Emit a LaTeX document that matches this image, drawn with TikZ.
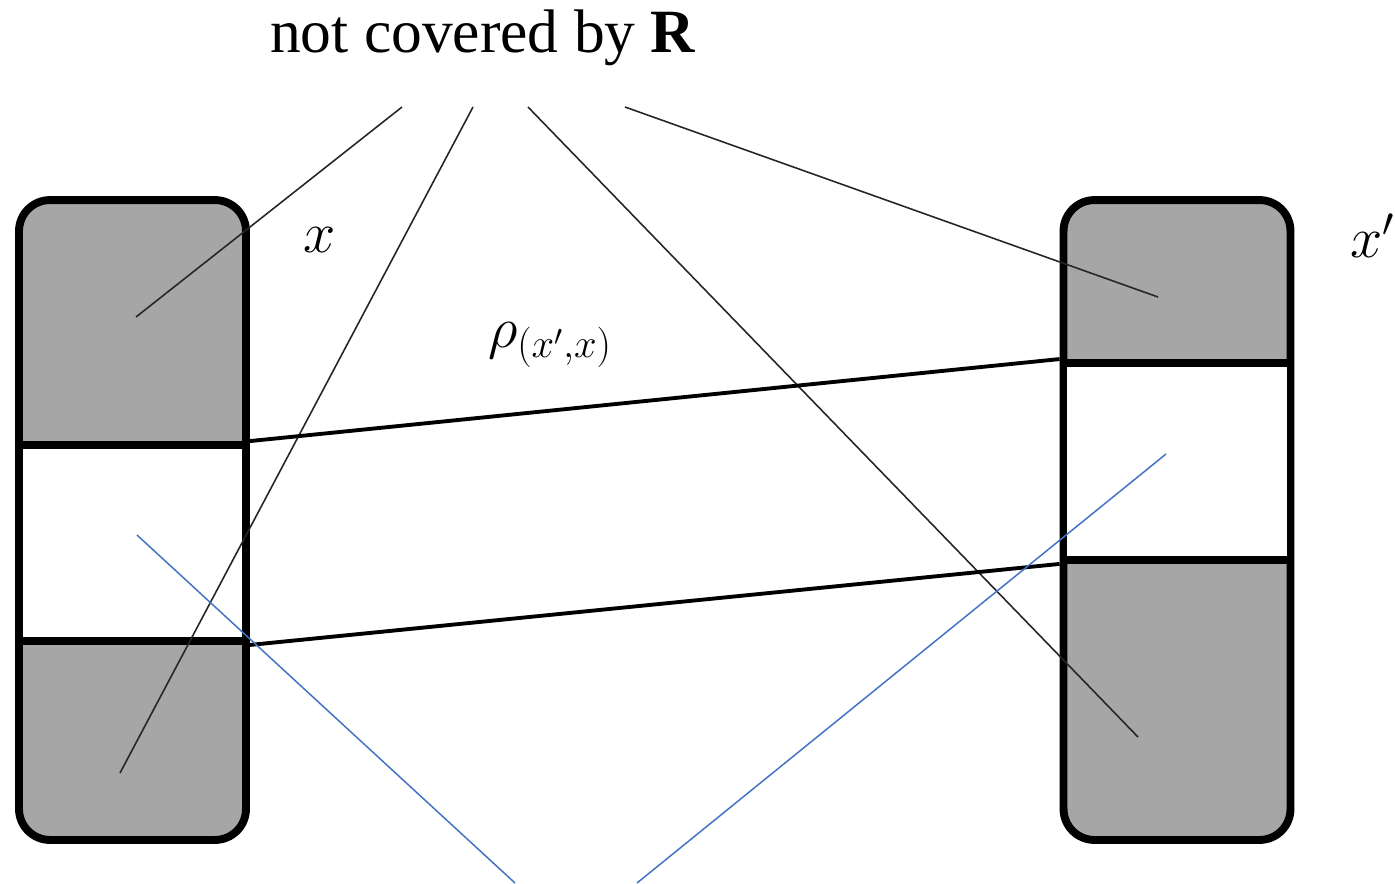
\RequirePackage{fix-cm}
\documentclass[tikz,border=0pt]{standalone}
\usepackage{fontspec}
\setmainfont{Liberation Serif}
\usepackage{amsmath}
\usetikzlibrary{positioning,calc}

\begin{document}
\begin{tikzpicture}[
    x=0.02cm,
    y=-0.02cm,
    box/.style={
        draw,
        line width=4.5pt,
        rounded corners=0.62cm,
        fill=gray!70,
        minimum width=4.54cm,
        minimum height=12.8cm,
        inner sep=0pt
    },
    band/.style={
        draw,
        line width=4.5pt,
        fill=white,
        minimum width=4.54cm,
        inner sep=0pt
    },
    pointer/.style={line width=0.9pt, black!85},
    maplink/.style={line width=2.2pt},
    blueline/.style={line width=0.85pt, draw={rgb,255:red,68;green,114;blue,196}},
    mathlbl/.style={font=\fontsize{33}{40}\selectfont, inner sep=0pt}
]
\useasboundingbox (0,0) rectangle (1395,883);

% ============================================================
% WĘZŁY
% ============================================================
\node[box]  (L)  at (132.5, 520) {};
\node[band, minimum height=3.92cm] (Lm) at (132.5, 543) {};

\node[box]  (R)  at (1177, 520) {};
\node[band, minimum height=3.94cm] (Rm) at (1177, 461.5) {};

\node[font=\fontsize{35}{42}\selectfont, inner sep=0pt] (lbl) at (483, 38)
    {not covered by \textbf{R}};

\node[mathlbl]         (xl)  at (320, 240) {$x$};
\node[mathlbl, anchor=west] (xr) at (1350, 236) {$x'$};
\node[mathlbl]         (rho) at (550, 345) {$\rho_{(x',x)}$};

% końce wskaźników
\coordinate (t1) at (402, 107);
\coordinate (t2) at (473, 107);
\coordinate (t3) at (528, 107);
\coordinate (t4) at (625, 107);
\coordinate (e1) at (136, 317);
\coordinate (e2) at (120, 773);
\coordinate (e3) at (1138, 737);
\coordinate (e4) at (1158, 297);

\coordinate (b1) at (137, 535);
\coordinate (b2) at (515, 883);
\coordinate (b3) at (1166, 454);
\coordinate (b4) at (637, 883);

% ============================================================
% KRAWĘDZIE
% ============================================================
\draw[pointer] (t1) -- (e1);
\draw[pointer] (t2) -- (e2);
\draw[pointer] (t3) -- (e3);
\draw[pointer] (t4) -- (e4);

\draw[maplink] (Lm.north east) -- (Rm.north west);
\draw[maplink] (Lm.south east) -- (Rm.south west);

\draw[blueline] (b1) -- (b2);
\draw[blueline] (b3) -- (b4);

\end{tikzpicture}
\end{document}
